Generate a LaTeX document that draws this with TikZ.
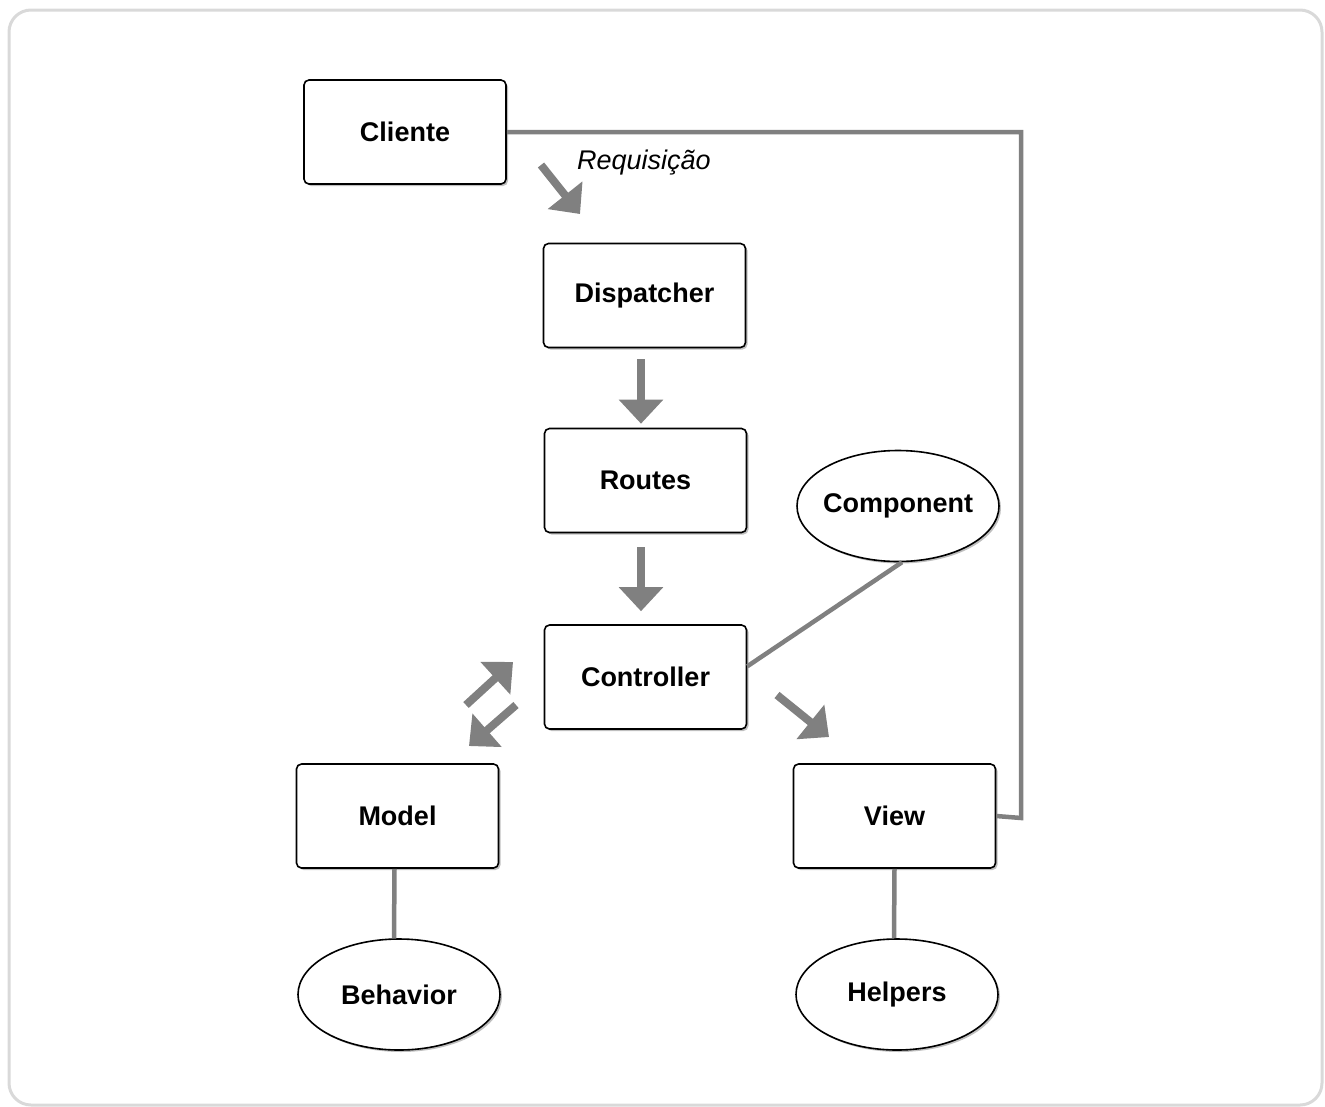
\documentclass[tikz,border=0pt]{standalone}
\usepackage{fontspec}
\setmainfont{Liberation Sans}
\usetikzlibrary{arrows.meta, shapes.geometric, shadows}

\begin{document}
\begin{tikzpicture}[x=1pt, y=-1pt,
    every node/.style={font=\fontsize{27}{32}\selectfont\bfseries},
    box/.style={draw, line width=1.6pt, fill=white, rounded corners=5pt,
      minimum width=202pt, minimum height=104pt, inner sep=0pt,
      drop shadow={shadow xshift=2pt, shadow yshift=-2pt, opacity=.5}},
    blob/.style={box, ellipse, rounded corners=0pt, minimum height=111pt},
    link/.style={draw=gray, line width=4.5pt},
    fat/.style={draw=gray, line width=8pt, -{Triangle[width=43pt, length=24pt]}}]%
  \useasboundingbox (0,0) rectangle (1325,1106);
  \draw[line width=3pt, black!15, rounded corners=22pt] (9,10) rectangle (1322,1105);

  \node[box] (cliente) at (405,132) {Cliente};
  \node[box] (dispatcher) at (644.5,295.5) {Dispatcher};
  \node[box] (routes) at (645.5,480.5) {Routes};
  \node[box] (controller) at (645.5,677) {Controller};
  \node[box] (model) at (397.5,816) {Model};
  \node[box] (view) at (894.5,816) {View};
  \node[blob] (component) at (898,506) {\makebox[0pt]{Component}};
  \node[blob] (behavior) at (399,994.5) {\makebox[0pt]{Behavior}};
  \node[blob] (helpers) at (897,994.5) {\makebox[0pt]{Helpers}};
  \node[font=\fontsize{27}{32}\selectfont\itshape] (req) at (644,163) {Requisição};

  \coordinate (bend) at (1021,818);
  \draw[link] (cliente.east) -| (bend) -- (view.east);
  \draw[link] (component.-86) -- (controller.6);
  \draw[link] ([xshift=-3pt]model.south) -- ([xshift=-5pt]behavior.north);
  \draw[link] (view.south) -- ([xshift=-3pt]helpers.north);

  \coordinate (req a) at (541,165);
  \coordinate (req b) at (580,214);
  \coordinate (mc a) at (466,705);
  \coordinate (mc b) at (513,662);
  \coordinate (cm a) at (516,705);
  \coordinate (cm b) at (469,746);
  \coordinate (cv a) at (777,695);
  \coordinate (cv b) at (829,737);
  \draw[fat, shorten <=11pt, shorten >=4pt] ([xshift=-3.5pt]dispatcher.south) -- ([xshift=-4.5pt]routes.north);
  \draw[fat, shorten <=14pt, shorten >=13pt] ([xshift=-4.5pt]routes.south) -- ([xshift=-4.5pt]controller.north);
  \foreach \a/\b in {req a/req b, mc a/mc b, cm a/cm b, cv a/cv b}
    \draw[fat] (\a) -- (\b);
\end{tikzpicture}
\end{document}
